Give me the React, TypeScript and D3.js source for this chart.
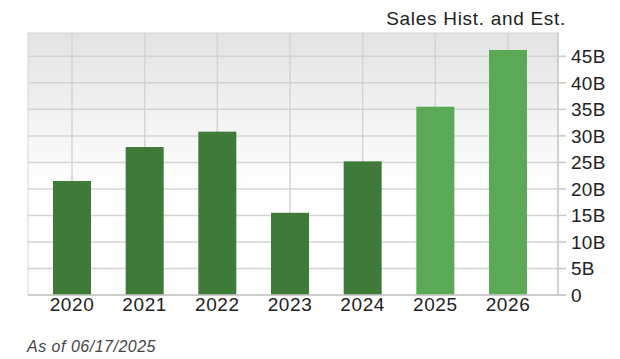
import React from "react";
import * as d3 from "d3";

const years = ["2020", "2021", "2022", "2023", "2024", "2025", "2026"];
const sales = [21.5, 27.9, 30.8, 15.5, 25.2, 35.5, 46.2];
const estimate = [false, false, false, false, false, true, true];
const yTicks = [0, 5, 10, 15, 20, 25, 30, 35, 40, 45];
const title = "Sales Hist. and Est.";
const footnote = "As of 06/17/2025";

const W = 620, H = 359;
const left = 28, right = 558, top = 33, bottom = 295;

export default function App() {
  const x = d3.scalePoint<string>().domain(years).range([72, 508]);
  const bw = x.step() * 0.523;
  const y = d3.scaleLinear().domain([0, 49.4]).range([bottom, top]);
  const font = "'Liberation Sans', Arial, sans-serif";
  return (
    <svg width={W} height={H} style={{ position: "absolute", left: 0, top: 0 }} fontFamily={font}>
      <defs>
        <linearGradient id="bg" x1="0" y1="0" x2="0" y2="1">
          <stop offset="0" stopColor="#e3e3e3" />
          <stop offset="0.6" stopColor="#ffffff" />
          <stop offset="1" stopColor="#ffffff" />
        </linearGradient>
      </defs>
      <rect x={left} y={top} width={right - left} height={bottom - top} fill="url(#bg)" stroke="#d6d6d6" strokeWidth={1} />
      {yTicks.map((t) => (
        <line key={"h" + t} x1={left} x2={right} y1={y(t)} y2={y(t)} stroke="#d4d4d4" strokeWidth={1.5} />
      ))}
      {years.map((c) => (
        <line key={"v" + c} x1={x(c)!} x2={x(c)!} y1={top} y2={bottom} stroke="#d4d4d4" strokeWidth={1.5} />
      ))}
      {years.map((c, i) => (
        <rect key={"b" + c} x={x(c)! - bw / 2} y={y(sales[i])} width={bw} height={bottom - y(sales[i])}
          fill={estimate[i] ? "#5aaa55" : "#3e7a38"} />
      ))}
      <line x1={left} x2={566} y1={bottom} y2={bottom} stroke="#c8c8c8" strokeWidth={1.5} />
      <line x1={right} x2={right} y1={top} y2={bottom} stroke="#c8c8c8" strokeWidth={1.5} />
      {yTicks.map((t) => (
        <g key={"t" + t}>
          <line x1={right} x2={566} y1={y(t)} y2={y(t)} stroke="#c8c8c8" strokeWidth={1.5} />
          <text x={571} y={y(t)} dy="0.36em" fontSize={19} letterSpacing={0.3} fill="#222">{t === 0 ? "0" : t + "B"}</text>
        </g>
      ))}
      {years.map((c) => (
        <text key={"x" + c} x={x(c)!} y={bottom + 16} textAnchor="middle" fontSize={19} letterSpacing={0.6} fill="#222">{c}</text>
      ))}
      <text x={566} y={25} textAnchor="end" fontSize={19} letterSpacing={0.7} fill="#222">{title}</text>
      <text x={27} y={352} fontSize={16} letterSpacing={0.5} fontStyle="italic" fill="#444">{footnote}</text>
    </svg>
  );
}
